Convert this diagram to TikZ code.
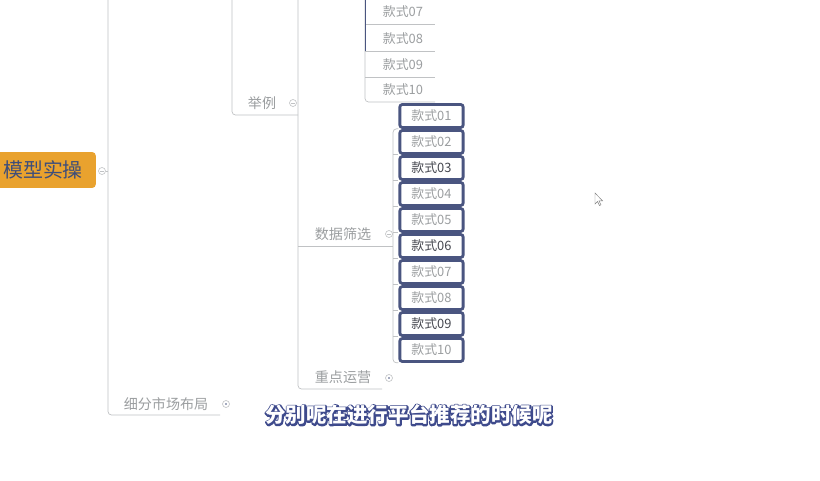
\documentclass[tikz,border=0pt]{standalone}
\usepackage{fontspec}
\setmainfont{Noto Sans CJK SC}
\usetikzlibrary{positioning}
\definecolor{linegray}{RGB}{192,194,196}
\definecolor{txtgray}{RGB}{155,158,160}
\definecolor{txtdark}{RGB}{70,72,80}
\definecolor{navy}{RGB}{74,85,128}
\definecolor{rootorange}{RGB}{233,162,46}
\definecolor{rootink}{RGB}{62,78,122}
\definecolor{subblue}{RGB}{62,74,140}
% outlined caption text: stroke in subblue, then white fill on top
\newcommand{\outlined}[1]{%
  \special{pdf:literal direct 1 Tr 2.6 w 1 j 0.243 0.290 0.549 RG}#1\special{pdf:literal direct 0 Tr}}

\begin{document}
\begin{tikzpicture}[x=0.03cm,y=-0.03cm,
  link/.style={linegray,line width=0.6pt,rounded corners=3pt},
  sel/.style={navy,line width=0.8pt},
  lbl/.style={text=txtgray,font=\fontsize{11}{12}\selectfont,inner sep=0pt},
  grp/.style={text=txtgray,font=\fontsize{12}{13}\selectfont,inner sep=0pt},
  rootbox/.style={fill=rootorange,rounded corners=3pt,text=rootink,font=\fontsize{17}{19}\selectfont,text width=100pt,align=right,inner xsep=11pt,minimum height=30.6pt,anchor=east},
  kbox/.style={draw=navy,line width=2.4pt,fill=white,rounded corners=2pt,minimum width=54pt,minimum height=19.5pt,inner sep=0pt,font=\fontsize{11}{12}\selectfont},
  fold/.style={circle,draw=linegray,fill=white,line width=0.5pt,inner sep=0pt,minimum size=6pt},
  foldminus/.style={fold,path picture={\draw[linegray,line width=0.5pt] ([xshift=1.4pt]path picture bounding box.west) -- ([xshift=-1.4pt]path picture bounding box.east);}},
  folddot/.style={fold,path picture={\fill[navy] (path picture bounding box.center) circle (0.8pt);}},
  subtitle/.style={font=\bfseries\fontsize{17.5}{19}\selectfont,inner sep=0pt}
]
\fill[white] (0,0) rectangle (820,480);
\useasboundingbox (0,0) rectangle (820,480);

% root
\node[rootbox] (root) at (96,170) {模型实操};
\node[foldminus] (root-c) at (102,171) {};

% trunk and last branch
\coordinate (t1) at (108,-5);
\coordinate (xf-end) at (220,415);
\draw[link] (t1) |- (xf-end);
\draw[link] (root-c) -- (root-c -| t1);
\node[grp] (xf) at (166,404) {细分市场布局};
\node[folddot] (xf-c) at (226,404) {};

% branch 举例
\coordinate (t2) at (232,-5);
\coordinate (jl-end) at (298,115);
\draw[link] (t2) |- (jl-end);
\node[grp] (jl) at (262,103) {举例};
\node[foldminus] (jl-c) at (293,103) {};

% children of 举例
\coordinate (t3) at (298,-5);
\coordinate (sx-end) at (393,246);
\coordinate (zd-end) at (382,389);
\draw[link] (t3) |- (zd-end);
\draw[link] (t3 |- sx-end) -- (sx-end);
\node[grp] (sx) at (343,234) {数据筛选};
\node[foldminus] (sx-c) at (389,234) {};
\node[grp] (zd) at (343,377) {重点运营};
\node[folddot] (zd-c) at (389,378) {};

% upper list
\coordinate (t4) at (365,-5);
\foreach \i/\y in {07/24,08/51,09/77,10/102}{
  \coordinate (u\i-end) at (435,\y);
  \node[lbl] (u\i) at (403,\y-12) {款式\i};
}
\draw[link] (t4) |- (u10-end);
\foreach \i in {07,08,09}
  \draw[link] (t4 |- u\i-end) -- (u\i-end);
\draw[sel] (t4) -- (t4 |- u08-end);

% selected list under 数据筛选
\foreach \i/\c [count=\n from 0] in {01/txtgray,02/txtgray,03/txtdark,04/txtgray,05/txtgray,06/txtdark,07/txtgray,08/txtgray,09/txtdark,10/txtgray}
  \node[kbox,text=\c] (k\i) at (431.5,{116+26*\n}) {款式\i};
\coordinate (t5) at (393,0);
\draw[link] (k01.south west) -| (t5 |- k10.south) -- (k10.south west);
\foreach \i in {02,03,04,05,06,07,08,09}
  \draw[link] (t5 |- k\i.south) -- (k\i.south west);

% cursor
\draw[gray,fill=white,line width=0.4pt] (595,193) -- (595,204) -- (597.5,201.5) -- (599.5,205.5) -- (601,204.8) -- (599,200.8) -- (602.5,200.8) -- cycle;

% subtitle
\node[subtitle,text=subblue] (sub-rim) at (409,415) {\outlined{分别呢在进行平台推荐的时候呢}};
\node[subtitle,text=white] (sub) at (sub-rim) {分别呢在进行平台推荐的时候呢};
\end{tikzpicture}
\end{document}
